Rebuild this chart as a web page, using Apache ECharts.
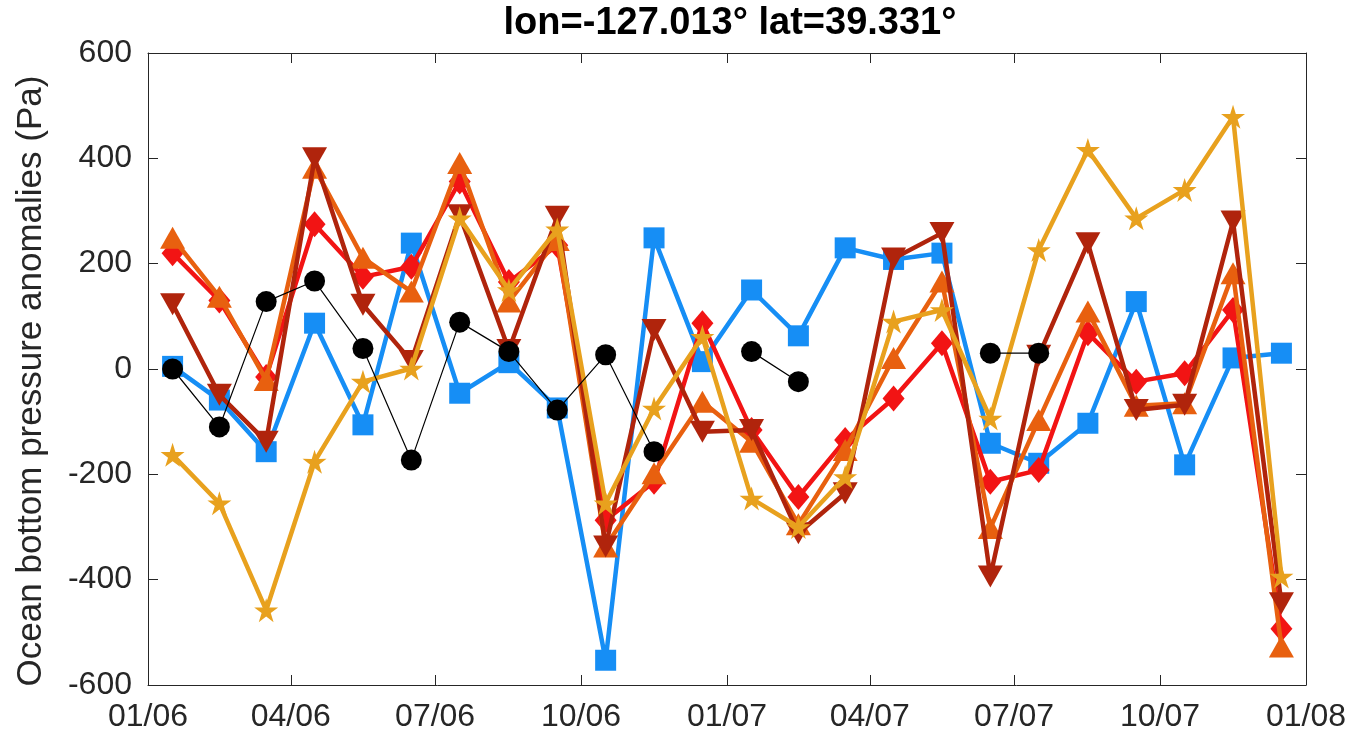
<!DOCTYPE html>
<html>
<head>
<meta charset="utf-8">
<title>Ocean bottom pressure anomalies</title>
<script src="https://cdn.jsdelivr.net/npm/echarts@6/dist/echarts.min.js"></script>
<style>
  html, body { margin: 0; padding: 0; background: #fff; }
  #chart { width: 1352px; height: 737px; }
</style>
</head>
<body>
<div id="chart"></div>
<script>
// Monthly samples, Jan 2006 – Dec 2007
const months = [
  '2006-01','2006-02','2006-03','2006-04','2006-05','2006-06',
  '2006-07','2006-08','2006-09','2006-10','2006-11','2006-12',
  '2007-01','2007-02','2007-03','2007-04','2007-05','2007-06',
  '2007-07','2007-08','2007-09','2007-10','2007-11','2007-12'
];

// Ocean bottom pressure anomalies (Pa), one array per product
const blueSquares = [5, -59, -157, 87, -106, 239, -46, 12, -74, -553, 249, 14,
                     150, 63, 230, 208, 220, -141, -179, -103, 128, -182, 21, 30];
const blackCircles = [0, -110, 128, 167, 39, -173, 89, 33, -78, 27, -157, null,
                      33, -24, null, null, null, 30, 30, null, null, null, null, null];
const redDiamonds = [220, 130, -15, 275, 175, 194, 356, 165, 235, -287, -214, 87,
                     -116, -243, -135, -56, 49, -214, -192, 68, -24, -8, 112, -493];
const orangeUp = [249, 137, -21, 382, 211, 147, 391, 128, 245, -337, -198, -62,
                  -138, -295, -154, 21, 166, -302, -97, 109, -70, -65, 182, -527];
const darkRedDown = [123, -49, -138, 400, 122, 15, 292, 36, 289, -337, 74, -119,
                     -116, -312, -236, 210, 258, -394, 25, 239, -78, -68, 280, -445];
const goldStars = [-163, -255, -458, -176, -24, 1, 286, 150, 265, -255, -75, 61,
                   -246, -300, -205, 90, 112, -94, 226, 416, 286, 340, 479, -394];

// Quarterly date ticks on the time axis
const tickDates = ['2006-01-01','2006-04-01','2006-07-01','2006-10-01','2007-01-01',
                   '2007-04-01','2007-07-01','2007-10-01','2008-01-01'];
const tickLabels = ['01/06','04/06','07/06','10/06','01/07','04/07','07/07','10/07','01/08'];

const yTicks = [-600, -400, -200, 0, 200, 400, 600];

function utc(s) {
  const p = s.split('-').map(Number);
  return Date.UTC(p[0], p[1] - 1, p.length > 2 ? p[2] : 1);
}
// centre of each calendar month
function midMonth(s) {
  const p = s.split('-').map(Number);
  return (Date.UTC(p[0], p[1] - 1, 1) + Date.UTC(p[0], p[1], 1)) / 2;
}
const xs = months.map(midMonth);
const tickTimes = tickDates.map(utc);
const xMin = tickTimes[0];
const xMax = tickTimes[tickTimes.length - 1];

const FONT = 'Liberation Sans, Arial, Helvetica, sans-serif';
const AXIS_COLOR = '#262626';

const STAR = 'path://M50,0 L61.17,34.63 L97.55,34.55 L68.07,55.87 L79.39,90.45 L50,69 L20.61,90.45 L31.93,55.87 L2.45,34.55 L38.83,34.63 Z';

function pairs(vals) {
  return vals.map((v, i) => [xs[i], v === null ? '-' : v]);
}

function lineSeries(vals, color, symbol, size, width, extra) {
  return Object.assign({
    type: 'line',
    data: pairs(vals),
    symbol: symbol,
    symbolSize: size,
    showAllSymbol: true,
    connectNulls: false,
    lineStyle: { color: color, width: width },
    itemStyle: { color: color, borderWidth: 0 },
    emphasis: { disabled: true },
    silent: true,
    animation: false
  }, extra || {});
}

const series = [
  lineSeries(blueSquares, '#168ef5', 'rect', 21, 4.5, { z: 2 }),
  lineSeries(redDiamonds, '#f21414', 'diamond', [22, 26], 4.5, { z: 3 }),
  lineSeries(orangeUp, '#e8600f', 'triangle', [25, 22], 4.5, { z: 4 }),
  lineSeries(darkRedDown, '#b0240c', 'triangle', [25, 22], 4.5, { z: 5, symbolRotate: 180 }),
  lineSeries(goldStars, '#e8a11e', STAR, 24, 4.5, { z: 6 }),
  lineSeries(blackCircles, '#000000', 'circle', 21, 1.2, { z: 7 })
];

const chart = echarts.init(document.getElementById('chart'), null, { renderer: 'canvas' });

const tickCommon = {
  show: true,
  inside: true,
  length: 10,
  lineStyle: { color: AXIS_COLOR, width: 1 }
};

chart.setOption({
  animation: false,
  backgroundColor: '#ffffff',
  title: {
    text: 'lon=-127.013° lat=39.331°',
    left: 725,
    textAlign: 'center',
    top: 0,
    textStyle: { fontFamily: FONT, fontSize: 38, fontWeight: 'bold', color: '#000000' }
  },
  // rotated y-axis title
  graphic: [{
    type: 'text',
    x: 31,
    y: 381,
    rotation: Math.PI / 2,
    silent: true,
    style: {
      text: 'Ocean bottom pressure anomalies (Pa)',
      fontFamily: FONT,
      fontSize: 35,
      fill: AXIS_COLOR,
      align: 'center',
      verticalAlign: 'middle'
    }
  }],
  grid: { left: 148, right: 46, top: 53, bottom: 52, containLabel: false },
  xAxis: [
    {
      type: 'value',
      position: 'bottom',
      min: xMin,
      max: xMax,
      axisLine: { show: true, onZero: false, lineStyle: { color: AXIS_COLOR, width: 1 } },
      axisTick: Object.assign({ customValues: tickTimes }, tickCommon),
      axisLabel: {
        customValues: tickTimes,
        formatter: (v) => {
          const i = tickTimes.indexOf(v);
          return i >= 0 ? tickLabels[i] : '';
        },
        margin: 16,
        fontFamily: FONT,
        fontSize: 32,
        color: AXIS_COLOR
      },
      splitLine: { show: false }
    },
    {
      type: 'value',
      position: 'top',
      min: xMin,
      max: xMax,
      axisLine: { show: true, onZero: false, lineStyle: { color: AXIS_COLOR, width: 1 } },
      axisTick: Object.assign({ customValues: tickTimes }, tickCommon),
      axisLabel: { show: false },
      splitLine: { show: false }
    }
  ],
  yAxis: [
    {
      type: 'value',
      position: 'left',
      min: -600,
      max: 600,
      interval: 200,
      axisLine: { show: true, onZero: false, lineStyle: { color: AXIS_COLOR, width: 1 } },
      axisTick: Object.assign({ customValues: yTicks }, tickCommon),
      axisLabel: {
        customValues: yTicks,
        margin: 16,
        fontFamily: FONT,
        fontSize: 32,
        color: AXIS_COLOR
      },
      splitLine: { show: false }
    },
    {
      type: 'value',
      position: 'right',
      min: -600,
      max: 600,
      interval: 200,
      axisLine: { show: true, onZero: false, lineStyle: { color: AXIS_COLOR, width: 1 } },
      axisTick: tickCommon,
      axisLabel: { show: false },
      splitLine: { show: false }
    }
  ],
  series: series
});
</script>
</body>
</html>
